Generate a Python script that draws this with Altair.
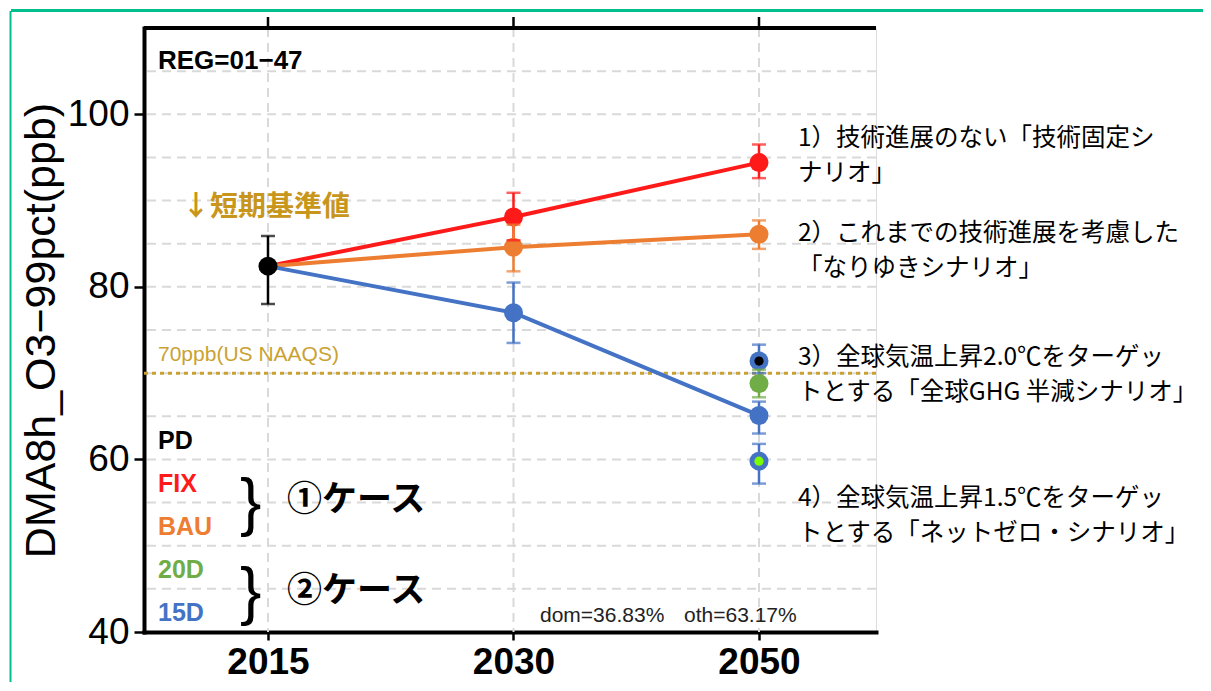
import altair as alt
import pandas as pd

# ---------------- data ----------------
years = ["2015", "2030", "2050"]

line_fix = [82.4, 88.1, 94.4]
line_bau = [82.4, 84.6, 86.1]
line_15d = [82.4, 77.0, 65.1]

pt_series = ["PD", "FIX", "BAU", "15D", "FIX", "BAU", "15D", "20D", "15D", "15D"]
pt_years = ["2015", "2030", "2030", "2030", "2050", "2050", "2050", "2050", "2050", "2050"]
pt_vals = [82.4, 88.1, 84.6, 77.0, 94.4, 86.1, 71.4, 68.8, 65.1, 59.8]
pt_lo = [78.0, 85.4, 81.8, 73.5, 92.6, 84.4, 70.0, 67.2, 63.0, 57.2]
pt_hi = [85.9, 90.9, 87.2, 80.5, 96.5, 87.7, 73.3, 70.4, 66.7, 61.8]

inner_series = ["PD", "NZ"]
inner_years = ["2050", "2050"]
inner_vals = [71.4, 59.8]

grid_values = [45, 50, 55, 60, 65, 70, 75, 80, 85, 90, 95, 100, 105]
y_tick_values = [40, 60, 80, 100]
y_top = [110]
naaqs = [70]

legend_labels = ["PD", "FIX", "BAU", "20D", "15D"]
right_blocks = [
    ["1）技術進展のない「技術固定シ", "ナリオ」"],
    ["2）これまでの技術進展を考慮した", "「なりゆきシナリオ」"],
    ["3）全球気温上昇2.0℃をターゲッ", "トとする「全球GHG 半減シナリオ」"],
    ["4）全球気温上昇1.5℃をターゲッ", "トとする「ネットゼロ・シナリオ」"],
]

# ---------------- tables ----------------
lines_df = pd.DataFrame({
    "series": ["FIX"] * 3 + ["BAU"] * 3 + ["15D"] * 3,
    "year": years * 3,
    "value": line_fix + line_bau + line_15d,
})
pts_df = pd.DataFrame({"series": pt_series, "year": pt_years, "value": pt_vals,
                       "lo": pt_lo, "hi": pt_hi})
inner_df = pd.DataFrame({"series": inner_series, "year": inner_years, "value": inner_vals})
grid_df = pd.DataFrame({"v": grid_values})
years_df = pd.DataFrame({"year": years})
naaqs_df = pd.DataFrame({"v": naaqs})
top_df = pd.DataFrame({"v": y_top})

# ---------------- styling ----------------
W, H = 732, 604
SANS = "'Liberation Sans', Arial, sans-serif"
JP = "'Noto Sans CJK JP', sans-serif"
GOLD = "#C9A233"

color_domain = ["PD", "FIX", "BAU", "20D", "15D", "NZ"]
color_range = ["#000000", "#FF1A1A", "#ED7D31", "#70AD47", "#4472C4", "#7CFC00"]
cscale = alt.Scale(domain=color_domain, range=color_range)
color = alt.Color("series:N", scale=cscale, legend=None)

xscale = alt.Scale(type="point", domain=years, padding=0.4908, align=0.5145)
yscale = alt.Scale(domain=[40, 110], nice=False, zero=False)

x_axis = alt.Axis(orient="bottom", title=None, labelFont=SANS, labelFontSize=37,
                  labelFontWeight="bold", labelColor="black", labelPadding=33,
                  labelBaseline="alphabetic", labelAngle=0, tickSize=8, tickWidth=2.5,
                  tickColor="black", domainWidth=4, domainColor="black",
                  domainCap="square", grid=False)
y_axis = alt.Axis(orient="left", values=y_tick_values, title="DMA8h_O3−99pct(ppb)",
                  titleFont=SANS, titleFontSize=43, titleFontWeight="normal",
                  titleColor="black", titleX=-103, titleY=H / 2, titleAngle=270,
                  titleBaseline="middle", titleAlign="center", labelFont=SANS,
                  labelFontSize=37, labelColor="black", labelPadding=5,
                  tickSize=10, tickWidth=2.5, tickColor="black", domainWidth=4,
                  domainColor="black", domainCap="square", grid=False)


# every layer carries the same axis definition so that the shared axes merge cleanly
def X():
    return alt.X("year:O", scale=xscale, sort=years, axis=x_axis)


def Y(field):
    return alt.Y(field, type="quantitative", scale=yscale, axis=y_axis)


# grid
hgrid = alt.Chart(grid_df).mark_rule(color="#d9d9d9", strokeWidth=2, strokeDash=[9, 6]).encode(
    y=Y("v"))
vgrid = alt.Chart(years_df).mark_rule(color="#d9d9d9", strokeWidth=2, strokeDash=[9, 6]).encode(
    x=X())

# top frame line and its outward ticks
top_line = alt.Chart(top_df).mark_rule(color="black", strokeWidth=4).encode(y=Y("v"))
top_ticks = alt.Chart(years_df).mark_rule(color="black", strokeWidth=2.5).encode(
    x=X(), y=alt.value(-11), y2=alt.value(0))

naaqs_line = alt.Chart(naaqs_df).mark_rule(color=GOLD, strokeWidth=3, strokeDash=[4, 4]).encode(
    y=Y("v"))

lines = alt.Chart(lines_df).mark_line(strokeWidth=4).encode(
    x=X(), y=Y("value"), color=color, detail="series:N")

circles = alt.Chart(pts_df).mark_circle(size=360, opacity=1).encode(
    x=X(), y=Y("value"), color=color)

err = alt.Chart(pts_df).mark_rule(strokeWidth=2.5).encode(
    x=X(), y=Y("lo"), y2="hi:Q", color=color)
cap_lo = alt.Chart(pts_df).mark_tick(size=14, thickness=2.5).encode(
    x=X(), y=Y("lo"), color=color)
cap_hi = alt.Chart(pts_df).mark_tick(size=14, thickness=2.5).encode(
    x=X(), y=Y("hi"), color=color)

inner = alt.Chart(inner_df).mark_circle(size=85, opacity=1).encode(
    x=X(), y=Y("value"), color=color)

# ---------------- annotations (pixel offsets from plot origin) ----------------
anchor = pd.DataFrame({"a": [0]})


def txt(text, x, y, size, colr="black", font=SANS, weight="normal", align="left",
        baseline="middle", line_height=None):
    kw = dict(text=text, fontSize=size, color=colr, font=font, fontWeight=weight,
              align=align, baseline=baseline)
    if line_height is not None:
        kw["lineHeight"] = line_height
    return alt.Chart(anchor).mark_text(**kw).encode(x=alt.value(x), y=alt.value(y))


ann = [
    txt("REG=01−47", 14, 33, 26, weight="bold"),
    txt("↓短期基準値", 38, 180, 28, colr="#C8961A", font=JP, weight="bold"),
    txt("70ppb(US NAAQS)", 14, 327, 21, colr=GOLD),
    txt("dom=36.83%", 396, 588, 21, colr="#222222"),
    txt("oth=63.17%", 540, 588, 21, colr="#222222"),
]
legend_colors = ["#000000", "#FF1A1A", "#ED7D31", "#70AD47", "#4472C4"]
for i, (lab, c) in enumerate(zip(legend_labels, legend_colors)):
    ann.append(txt(lab, 14, 413 + 43 * i, 25, colr=c, weight="bold"))

ann += [
    txt("}", 96, 477, 64),
    txt("}", 96, 566, 64),
    txt("①ケース", 212, 472, 35, font=JP, weight="bold", align="center"),
    txt("②ケース", 212, 563, 35, font=JP, weight="bold", align="center"),
]
block_baselines = [118, 213, 337, 478]
for blk, yb in zip(right_blocks, block_baselines):
    ann.append(txt(blk, 654, yb, 24.5, font=JP, baseline="alphabetic", line_height=35))

# green frame of the original slide
frame_top = alt.Chart(anchor).mark_rule(color="#00BF8F", strokeWidth=3).encode(
    x=alt.value(-133), x2=alt.value(1070), y=alt.value(-17.5))
frame_left = alt.Chart(anchor).mark_rule(color="#00BF8F", strokeWidth=2).encode(
    x=alt.value(-133.5), y=alt.value(-17), y2=alt.value(680))

chart = alt.layer(
    hgrid, vgrid, naaqs_line, lines, circles, err, cap_lo, cap_hi, inner,
    top_line, top_ticks, *ann, frame_top, frame_left
).properties(
    width=W, height=H,
    autosize=alt.AutoSizeParams(type="none"),
    padding={"left": 136, "top": 20, "right": 327, "bottom": 50},
).configure_view(strokeWidth=0, stroke="transparent").configure(background="white")

chart.save("out.html", embed_options={"renderer": "svg", "actions": False})
